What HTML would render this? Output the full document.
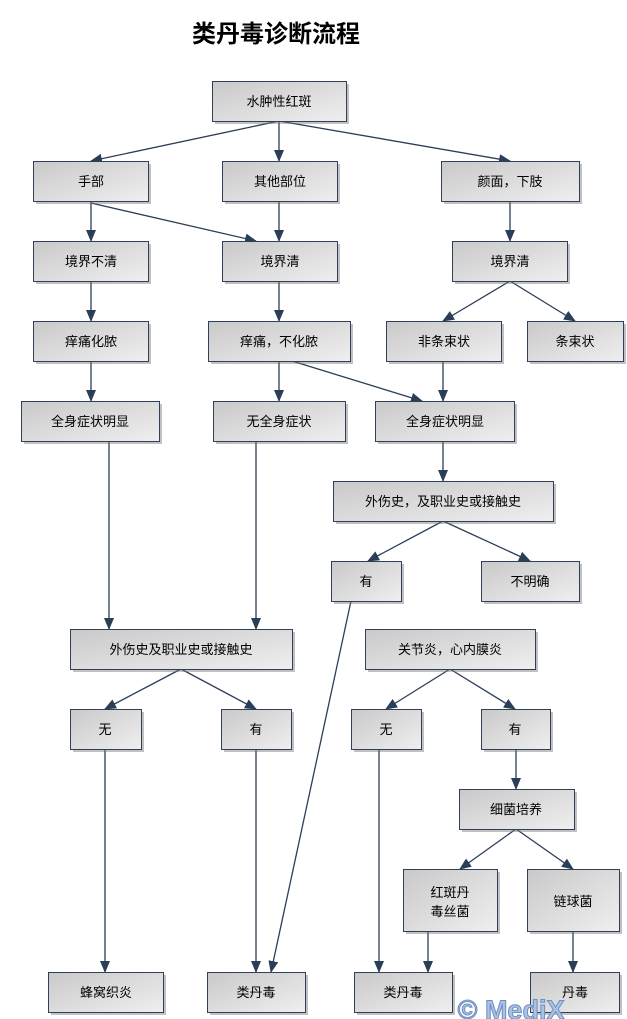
<!DOCTYPE html>
<html><head><meta charset="utf-8">
<style>
html,body{margin:0;padding:0;background:#fff;width:627px;height:1019px;overflow:hidden}
svg text{font-family:"Liberation Sans","Noto Sans CJK SC","WenQuanYi Zen Hei",sans-serif;font-size:13px;fill:#000}
</style></head><body>
<svg width="627" height="1019" viewBox="0 0 627 1019" xmlns="http://www.w3.org/2000/svg">
<defs>
<linearGradient id="g" x1="0" y1="0" x2="1" y2="1">
<stop offset="0" stop-color="#c9c9c9"/><stop offset="1" stop-color="#efefef"/></linearGradient>
<marker id="a" markerWidth="12" markerHeight="10" refX="11" refY="5" orient="auto" markerUnits="userSpaceOnUse">
<path d="M0,0 L12,5 L0,10 Z" fill="#2b3e57"/></marker>
</defs>
<text x="276" y="42" text-anchor="middle" style="font-size:24px;font-weight:bold">类丹毒诊断流程</text>
<g stroke="#2b3e57" stroke-width="1.3" fill="none" marker-end="url(#a)">
<line x1="279" y1="121" x2="91" y2="161"/>
<line x1="279" y1="121" x2="279" y2="161"/>
<line x1="279" y1="121" x2="510" y2="161"/>
<line x1="91" y1="201" x2="91" y2="241"/>
<line x1="91" y1="203" x2="256" y2="241"/>
<line x1="279" y1="201" x2="279" y2="241"/>
<line x1="510" y1="201" x2="510" y2="241"/>
<line x1="91" y1="281" x2="91" y2="321"/>
<line x1="279" y1="281" x2="279" y2="321"/>
<line x1="510" y1="281" x2="443" y2="321"/>
<line x1="510" y1="281" x2="575" y2="321"/>
<line x1="91" y1="361" x2="91" y2="401"/>
<line x1="279" y1="361" x2="279" y2="401"/>
<line x1="292" y1="361" x2="422" y2="401"/>
<line x1="443" y1="361" x2="443" y2="401"/>
<line x1="109" y1="441" x2="109" y2="629"/>
<line x1="256" y1="441" x2="256" y2="629"/>
<line x1="443" y1="441" x2="443" y2="481"/>
<line x1="443" y1="521" x2="368" y2="561"/>
<line x1="443" y1="521" x2="530" y2="561"/>
<line x1="351" y1="601" x2="271" y2="972"/>
<line x1="181" y1="669" x2="105" y2="709"/>
<line x1="181" y1="669" x2="256" y2="709"/>
<line x1="105" y1="749" x2="105" y2="972"/>
<line x1="256" y1="749" x2="256" y2="972"/>
<line x1="450" y1="669" x2="386" y2="709"/>
<line x1="450" y1="669" x2="515" y2="709"/>
<line x1="379" y1="749" x2="379" y2="972"/>
<line x1="516" y1="749" x2="516" y2="789"/>
<line x1="516" y1="829" x2="460" y2="869"/>
<line x1="516" y1="829" x2="573" y2="869"/>
<line x1="428" y1="931" x2="428" y2="972"/>
<line x1="573" y1="931" x2="573" y2="972"/>
</g>
<g id="boxes">
<g fill="#777" opacity="0.45">
<rect x="215" y="84" width="134" height="40"/><rect x="36" y="164" width="115" height="40"/><rect x="225" y="164" width="115" height="40"/><rect x="444" y="164" width="138" height="40"/>
<rect x="36" y="244" width="115" height="40"/><rect x="225" y="244" width="115" height="40"/><rect x="455" y="244" width="115" height="40"/>
<rect x="36" y="324" width="115" height="40"/><rect x="211" y="324" width="142" height="40"/><rect x="389" y="324" width="115" height="40"/><rect x="530" y="324" width="96" height="40"/>
<rect x="24" y="404" width="138" height="40"/><rect x="216" y="404" width="132" height="40"/><rect x="378" y="404" width="139" height="40"/>
<rect x="336" y="484" width="220" height="40"/><rect x="334" y="564" width="70" height="40"/><rect x="484" y="564" width="98" height="40"/>
<rect x="73" y="632" width="222" height="40"/><rect x="368" y="632" width="170" height="40"/>
<rect x="73" y="712" width="71" height="40"/><rect x="224" y="712" width="70" height="40"/><rect x="354" y="712" width="70" height="40"/><rect x="484" y="712" width="69" height="40"/>
<rect x="462" y="792" width="115" height="40"/><rect x="406" y="872" width="94" height="62"/><rect x="530" y="872" width="92" height="62"/>
<rect x="51" y="975" width="115" height="40"/><rect x="210" y="975" width="98" height="40"/><rect x="357" y="975" width="98" height="40"/><rect x="533" y="975" width="89" height="40"/>
</g>
<g fill="url(#g)" stroke="#2f4058" stroke-width="1">
<rect x="212.5" y="81.5" width="134" height="40"/><rect x="33.5" y="161.5" width="115" height="40"/><rect x="222.5" y="161.5" width="115" height="40"/><rect x="441.5" y="161.5" width="138" height="40"/>
<rect x="33.5" y="241.5" width="115" height="40"/><rect x="222.5" y="241.5" width="115" height="40"/><rect x="452.5" y="241.5" width="115" height="40"/>
<rect x="33.5" y="321.5" width="115" height="40"/><rect x="208.5" y="321.5" width="142" height="40"/><rect x="386.5" y="321.5" width="115" height="40"/><rect x="527.5" y="321.5" width="96" height="40"/>
<rect x="21.5" y="401.5" width="138" height="40"/><rect x="213.5" y="401.5" width="132" height="40"/><rect x="375.5" y="401.5" width="139" height="40"/>
<rect x="333.5" y="481.5" width="220" height="40"/><rect x="331.5" y="561.5" width="70" height="40"/><rect x="481.5" y="561.5" width="98" height="40"/>
<rect x="70.5" y="629.5" width="222" height="40"/><rect x="365.5" y="629.5" width="170" height="40"/>
<rect x="70.5" y="709.5" width="71" height="40"/><rect x="221.5" y="709.5" width="70" height="40"/><rect x="351.5" y="709.5" width="70" height="40"/><rect x="481.5" y="709.5" width="69" height="40"/>
<rect x="459.5" y="789.5" width="115" height="40"/><rect x="403.5" y="869.5" width="94" height="62"/><rect x="527.5" y="869.5" width="92" height="62"/>
<rect x="48.5" y="972.5" width="115" height="40"/><rect x="207.5" y="972.5" width="98" height="40"/><rect x="354.5" y="972.5" width="98" height="40"/><rect x="530.5" y="972.5" width="89" height="40"/>
</g>
</g>
<g text-anchor="middle">
<text x="279" y="106">水肿性红斑</text>
<text x="91" y="186">手部</text><text x="280" y="186">其他部位</text><text x="510" y="186">颜面，下肢</text>
<text x="91" y="266">境界不清</text><text x="280" y="266">境界清</text><text x="510" y="266">境界清</text>
<text x="91" y="346">痒痛化脓</text><text x="279" y="346">痒痛，不化脓</text><text x="444" y="346">非条束状</text><text x="575" y="346">条束状</text>
<text x="90" y="426">全身症状明显</text><text x="279" y="426">无全身症状</text><text x="445" y="426">全身症状明显</text>
<text x="443" y="506">外伤史，及职业史或接触史</text><text x="366" y="586">有</text><text x="530" y="586">不明确</text>
<text x="181" y="654">外伤史及职业史或接触史</text><text x="450" y="654">关节炎，心内膜炎</text>
<text x="105" y="734">无</text><text x="256" y="734">有</text><text x="386" y="734">无</text><text x="515" y="734">有</text>
<text x="516" y="814">细菌培养</text>
<text x="450" y="897">红斑丹</text><text x="450" y="916">毒丝菌</text><text x="573" y="906">链球菌</text>
<text x="106" y="997">蜂窝织炎</text><text x="256" y="997">类丹毒</text><text x="403" y="997">类丹毒</text><text x="575" y="997">丹毒</text>
</g>
<text x="511" y="1019" text-anchor="middle" style="font-size:27px;font-weight:bold;fill:#a9c3e6;stroke:#6d8fbf;stroke-width:1">© MediX</text>
</svg>
</body></html>
